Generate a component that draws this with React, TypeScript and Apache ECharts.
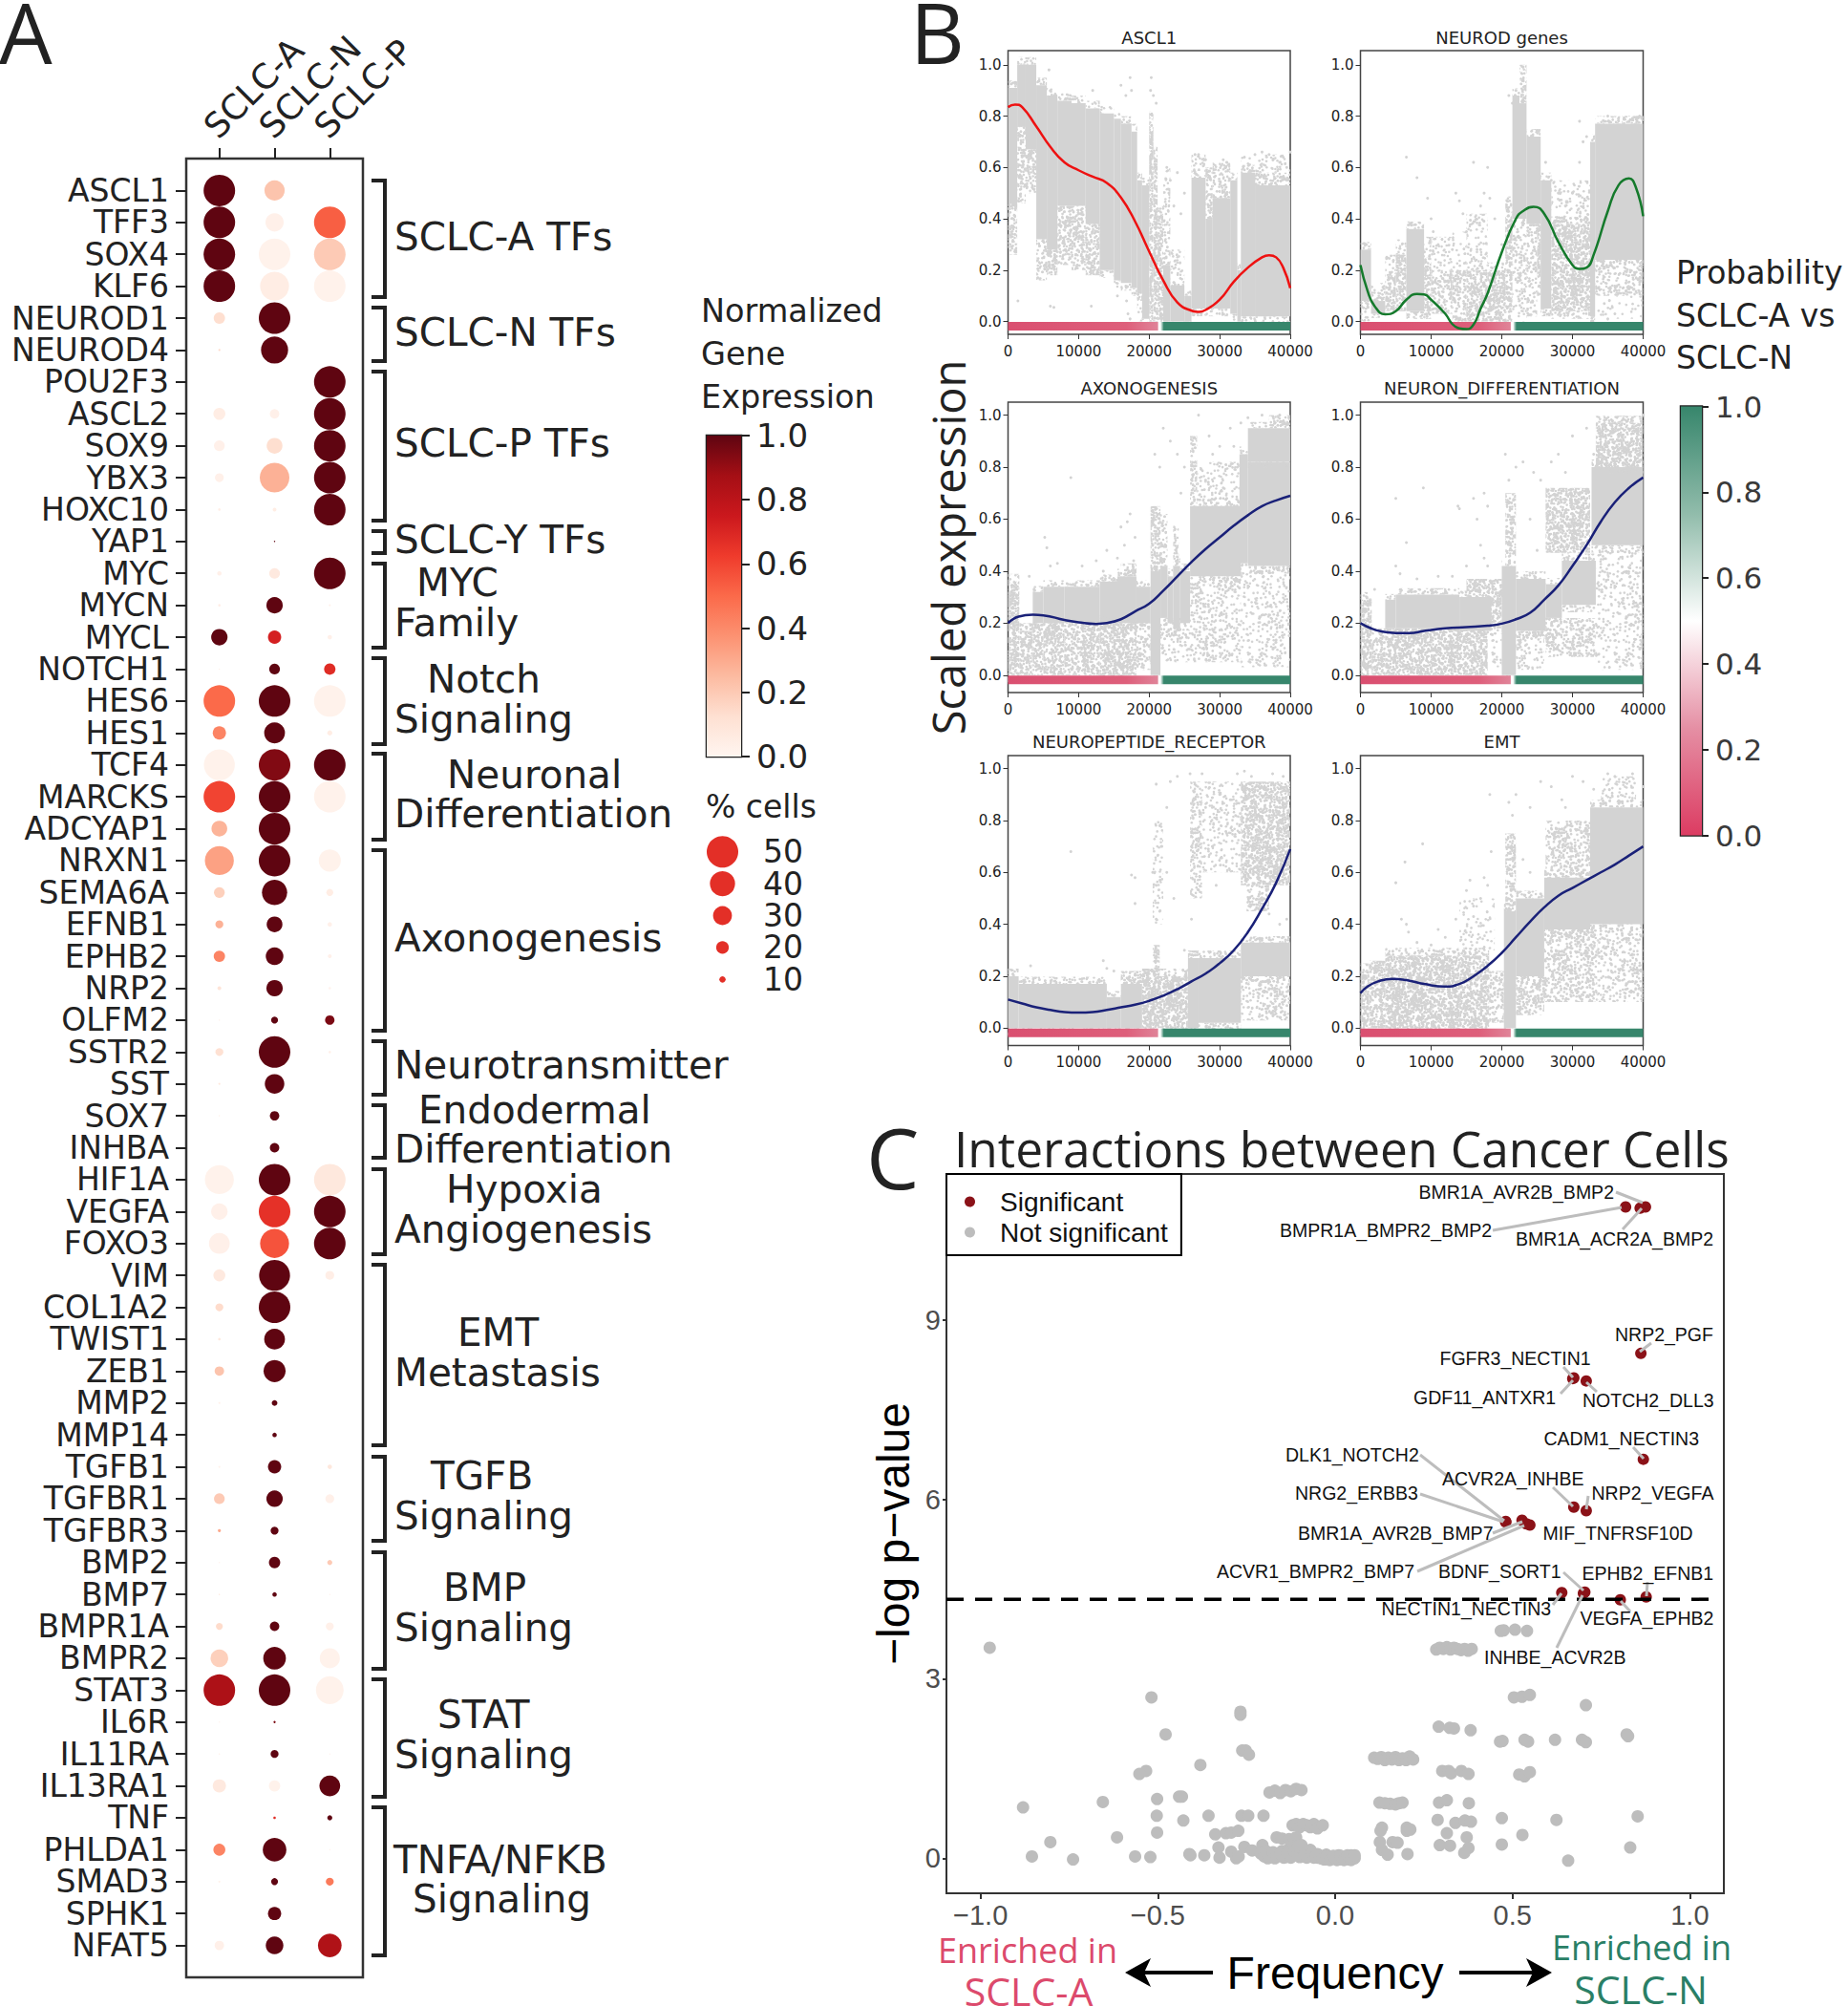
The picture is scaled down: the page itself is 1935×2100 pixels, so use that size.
import React, { useEffect, useRef } from "react";
import * as echarts from "echarts";

const genes = ["ASCL1","TFF3","SOX4","KLF6","NEUROD1","NEUROD4","POU2F3","ASCL2","SOX9","YBX3","HOXC10","YAP1","MYC","MYCN","MYCL","NOTCH1","HES6","HES1","TCF4","MARCKS","ADCYAP1","NRXN1","SEMA6A","EFNB1","EPHB2","NRP2","OLFM2","SSTR2","SST","SOX7","INHBA","HIF1A","VEGFA","FOXO3","VIM","COL1A2","TWIST1","ZEB1","MMP2","MMP14","TGFB1","TGFBR1","TGFBR3","BMP2","BMP7","BMPR1A","BMPR2","STAT3","IL6R","IL11RA","IL13RA1","TNF","PHLDA1","SMAD3","SPHK1","NFAT5"];
const subtypes = ["SCLC-A","SCLC-N","SCLC-P"];
const pctA = [50,50,50,50,18,3,0,19,17,14,4,0,7,4,26,2,50,21,49,50,25,46,17,12.5,18,6,2,12.5,3,2,0,46,26,33,19,12.5,4,15,3,0,3,17,5,2,2,11,28,50,2,2,21,0,19,3,0,15];
const exprA = [1,1,1,1,.13,.15,0,.05,.03,.03,.04,0,.03,.04,1,.03,.5,.42,.02,.6,.27,.33,.18,.28,.42,.1,.03,.12,.08,.03,0,.02,.03,.03,.07,.14,.08,.22,.02,0,.02,.2,.3,.02,.08,.14,.18,.85,.02,.03,.07,0,.42,.02,0,.03];
const pctN = [32,29,50,46,50,43,0,15,25,47,6,2,17,26,21,17,50,33,50,50,50,50,40,25,28,26,11,50,31,15,15,50,50,46,49,50,33,35,9,7,21,26,12.5,18,7,15,36,50,3.5,12.5,18,4,37.5,11,21,28];
const exprN = [.22,.03,.02,.05,1,1,0,.03,.13,.28,.05,1,.07,1,.72,1,1,1,.94,1,1,1,1,1,1,1,1,1,1,1,1,1,.66,.56,1,1,1,1,1,1,1,1,1,1,1,1,1,1,.95,1,.02,.68,1,1,1,1];
const pctP = [0,50,50,50,0,0,50,50,50,50,50,0,50,3,7,18,50,8,50,50,0,35,11,7,6,4,15,4,0,0,0,50,50,50,14,0,0,0,0,0,7,14,0,8,2,12.5,32,44,0,2,33,8,2,12.5,0,37.5];
const exprP = [0,.53,.2,.02,0,0,1,1,1,1,1,0,1,.02,.03,.68,.02,.05,1,.02,0,.02,.05,.03,.03,.01,.95,.03,0,0,0,.08,1,1,.04,0,0,0,0,0,.08,.03,0,.2,.01,.03,.02,.02,0,.01,1,1,.01,.45,0,.84];
const pctLegend = [50,40,30,20,10];
const groups = [
  { rows: [189, 311], lines: [["SCLC-A TFs", 413, 248]] },
  { rows: [322, 378], lines: [["SCLC-N TFs", 413, 348]] },
  { rows: [389, 545], lines: [["SCLC-P TFs", 413, 464]] },
  { rows: [556, 579], lines: [["SCLC-Y TFs", 413, 565]] },
  { rows: [590, 678], lines: [["MYC", 436, 610], ["Family", 413, 652]] },
  { rows: [689, 779], lines: [["Notch", 447, 711], ["Signaling", 413, 753]] },
  { rows: [789, 879], lines: [["Neuronal", 468, 811], ["Differentiation", 413, 852]] },
  { rows: [890, 1079], lines: [["Axonogenesis", 413, 982]] },
  { rows: [1090, 1146], lines: [["Neurotransmitter", 413, 1115]] },
  { rows: [1157, 1212], lines: [["Endodermal", 438, 1162], ["Differentiation", 413, 1203]] },
  { rows: [1224, 1313], lines: [["Hypoxia", 467, 1245], ["Angiogenesis", 413, 1287]] },
  { rows: [1324, 1513], lines: [["EMT", 479, 1395], ["Metastasis", 413, 1437]] },
  { rows: [1525, 1613], lines: [["TGFB", 451, 1545], ["Signaling", 413, 1587]] },
  { rows: [1625, 1747], lines: [["BMP", 464, 1662], ["Signaling", 413, 1704]] },
  { rows: [1758, 1881], lines: [["STAT", 458, 1795], ["Signaling", 413, 1837]] },
  { rows: [1892, 2047], lines: [["TNFA/NFKB", 412, 1947], ["Signaling", 432, 1988]] },
];

const curveAscl1 = [[0,.835],[1000,.845],[2000,.835],[4000,.76],[6000,.68],[8000,.62],[10000,.589],[12000,.564],[14000,.54],[16000,.483],[18000,.39],[20000,.273],[22000,.16],[24000,.074],[26000,.042],[27000,.037],[28000,.045],[30000,.085],[32000,.155],[34000,.21],[36000,.25],[37000,.258],[38000,.25],[39000,.21],[40000,.13]];
const curveNeurod = [[0,.22],[1000,.12],[2000,.06],[3500,.028],[5000,.04],[6500,.085],[8000,.107],[9000,.105],[10000,.085],[12000,.03],[13000,-.01],[14000,-.027],[15000,-.03],[16000,-.012],[17000,.05],[18000,.11],[20000,.27],[22000,.4],[23000,.43],[24500,.447],[26000,.42],[28000,.31],[30000,.22],[31000,.205],[32000,.21],[33000,.26],[35000,.43],[36500,.53],[38000,.557],[39000,.52],[40000,.41]];
const curveAxon = [[0,.2],[1500,.225],[3500,.232],[5000,.23],[8000,.212],[10000,.203],[12500,.197],[14000,.2],[16000,.215],[18000,.245],[20000,.275],[22000,.325],[24000,.38],[26000,.435],[28000,.485],[30000,.53],[32000,.575],[34000,.615],[36000,.65],[38000,.672],[40000,.69]];
const curveNeuron = [[0,.2],[1500,.18],[3000,.168],[5000,.162],[7000,.162],[9000,.17],[12000,.18],[15000,.185],[18000,.19],[20000,.198],[22000,.215],[24000,.24],[26000,.29],[28000,.345],[30000,.42],[32000,.5],[34000,.59],[36000,.665],[38000,.72],[40000,.76]];
const curvePeptide = [[0,.11],[2000,.095],[4000,.08],[6000,.07],[8000,.062],[10000,.06],[12000,.062],[14000,.07],[16000,.08],[18000,.09],[20000,.105],[22000,.125],[24000,.15],[26000,.18],[28000,.21],[30000,.25],[32000,.3],[34000,.37],[36000,.46],[38000,.56],[40000,.69]];
const curveEmt = [[0,.135],[1000,.16],[2500,.18],[4500,.19],[6500,.185],[9000,.17],[12000,.16],[14000,.17],[16000,.2],[18000,.24],[20000,.29],[22000,.35],[24000,.41],[26000,.465],[28000,.51],[30000,.54],[32000,.57],[34000,.6],[36000,.63],[38000,.665],[40000,.7]];

// Cloud envelopes: [x from, x to, y from, y to, density of the dots]
const cloudAscl1 = [[0,1300,.46,.91,1],[0,1300,.26,.46,.55],[1300,2500,.76,1,1],[1300,2500,.46,.76,.6],[2500,4000,.67,1,1],[2500,4000,.5,.67,.6],[4000,5500,.32,.92,1],[4000,5500,.16,.32,.4],[5500,7000,.28,.88,1],[5500,7000,.18,.28,.5],[7000,9000,.45,.86,1],[7000,9000,.22,.45,.7],[9000,11000,.45,.85,1],[9000,11000,.2,.45,.62],[11000,13000,.38,.83,1],[11000,13000,.18,.38,.7],[13000,15000,.2,.81,1],[15000,16000,.16,.79,1],[16000,17500,.15,.77,1],[17500,18300,.13,.74,1],[18300,19000,.11,.55,1],[18300,19000,0,.11,.3],[19000,20000,.01,.53,1],[20000,20600,0,.79,.95],[20600,21200,0,.65,.9],[21200,22000,0,.42,.9],[22000,23000,0,.22,1],[22000,23000,.22,.6,.3],[23000,25000,0,.14,1],[23000,25000,.14,.28,.2],[25000,26000,0,.1,1],[26000,28000,.05,.56,1],[26000,28000,.56,.65,.35],[28000,29000,.05,.4,1],[28000,29000,.4,.6,.6],[29000,31500,.05,.48,1],[29000,31500,.48,.62,.45],[31500,32500,.03,.55,1],[32500,33000,0,.2,1],[33000,35000,.02,.58,1],[35000,40000,.02,.53,1],[33000,40000,.58,.65,.2],[35000,40000,.53,.58,.5]];
const cloudNeurod = [[0,1500,.08,.28,1],[0,1500,0,.08,.3],[1500,3500,.03,.08,1],[1500,3500,.08,.15,.2],[3500,5000,.04,.18,.8],[3500,5000,.18,.26,.3],[5000,6500,.04,.26,.75],[5000,6500,.26,.32,.25],[6500,9000,.04,.36,1],[9000,10000,.04,.25,.9],[9000,10000,.25,.33,.4],[10000,13000,.03,.2,.6],[10000,13000,.2,.33,.2],[13000,15000,0,.2,.6],[13000,15000,.2,.35,.15],[15000,18000,0,.2,.75],[15000,18000,.2,.42,.3],[18000,20500,0,.2,.95],[20500,21500,0,.3,.8],[20500,21500,.3,.46,.9],[21500,22500,.4,.88,1],[22500,23500,.4,.85,1],[22500,23500,.85,1,.6],[21500,23500,0,.4,.25],[23500,25500,.38,.72,1],[23500,25000,.02,.38,.35],[25000,25500,.1,.38,.8],[25500,27000,.05,.55,1],[27000,32500,.04,.38,.92],[27000,32500,.38,.55,.22],[32500,33200,.02,.7,1],[33200,40000,.24,.77,1],[37000,40000,.77,.8,.6],[33200,40000,.1,.24,.45],[33200,40000,.01,.1,.1]];
const cloudAxon = [[0,1600,0,.36,.95],[1600,3500,0,.17,.75],[1600,3500,.17,.2,.4],[3500,5000,.2,.32,1],[3500,5000,0,.2,.75],[5000,8000,.2,.34,1],[5000,8000,0,.2,.8],[8000,13000,.2,.34,1],[8000,13000,0,.2,.75],[13000,15500,.2,.36,1],[13000,15500,0,.2,.9],[15500,18200,.2,.38,1],[15500,18200,0,.2,.92],[16000,18200,.38,.43,.6],[18200,20200,.2,.34,1],[18200,20200,.02,.2,.35],[20200,21600,0,.4,1],[20200,21600,.4,.65,.7],[21600,22600,.22,.42,1],[21600,22600,.42,.62,.45],[21600,25800,.05,.22,.3],[22600,23400,.2,.38,1],[23400,24400,.18,.42,1],[23400,24200,.42,.58,.5],[24400,25800,.2,.4,1],[25800,33000,.38,.65,1],[25800,26800,.65,.92,.5],[26800,28000,.65,.8,.2],[28000,32800,.65,.82,.28],[25800,33000,.05,.38,.32],[32800,34000,.43,.85,1],[34000,40000,.42,.82,1],[34000,40000,.82,.95,1],[37000,40000,.95,1,.6],[33000,40000,.03,.42,.2]];
const cloudNeuron = [[0,1600,.02,.29,.92],[1600,3500,0,.18,.72],[3500,5000,.18,.29,1],[5000,14000,.18,.31,1],[14000,18500,.17,.3,1],[3500,18000,0,.18,.85],[15000,21000,.3,.37,.8],[18300,20000,.18,.3,.9],[18300,20000,.03,.17,.2],[20000,22000,0,.42,1],[20500,22000,.42,.7,.6],[22000,26200,.17,.37,1],[22000,26000,.02,.17,.25],[26200,28000,.1,.22,.6],[26200,28500,.22,.35,1],[28500,33300,.27,.44,1],[26200,32500,.47,.72,.85],[26200,33300,.07,.22,.45],[32700,40000,.5,.8,1],[33300,40000,.8,.97,.95],[33300,40000,.02,.48,.22]];
const cloudPeptide = [[0,1500,0,.2,1],[1500,14000,0,.17,1],[14000,16000,0,.12,1],[16000,19000,0,.17,1],[16000,20000,.17,.22,.7],[19000,25500,0,.2,.95],[20500,21500,.2,.32,.85],[25500,27000,0,.27,1],[27000,33000,.02,.27,1],[33000,40000,.2,.33,1],[33000,40000,.03,.2,.35],[33000,40000,.55,.95,.85],[33800,37000,.45,.55,.5],[25800,27500,.5,.95,.45],[27500,33000,.6,.95,.22],[20500,22000,.4,.8,.15]];
const cloudEmt = [[0,1200,0,.22,.9],[1200,3500,0,.26,.8],[3500,14000,0,.28,.95],[14000,18200,0,.28,.9],[18200,20300,.02,.22,.55],[20300,22000,0,.45,1],[20500,22000,.45,.75,.55],[22000,26000,.2,.5,1],[22000,26000,.05,.2,.45],[26000,32500,.38,.58,1],[26200,32500,.58,.8,.5],[26000,33500,.1,.38,.5],[32500,40000,.4,.85,1],[33500,40000,.1,.4,.3],[34000,39000,.85,.97,.25],[14000,19000,.3,.5,.15]];

const sparseAscl1 = [[17300,.95],[17500,.9],[20300,.95],[20200,.9],[5800,.98],[16000,.92],[16700,.88],[12000,.9],[20600,.88],[21000,.85],[1400,.08],[6000,.06],[6500,.055],[11800,.06],[15500,.1],[17000,.03],[17300,.01],[16800,.08],[22500,.6],[23000,.55],[24000,.58],[25000,.5],[24500,.42],[23500,.45],[22800,.5],[26500,.65],[27000,.65],[28000,.63],[30500,.63],[31000,.62],[33500,.64],[35000,.65],[36000,.66],[37000,.65],[38500,.62],[39500,.6],[40000,.66],[39000,.64]];
const sparseNeurod = [[6500,.64],[8000,.56],[10000,.4],[10300,.35],[7000,.38],[12500,.32],[13000,.28],[11000,.3],[9500,.48],[13500,.5],[14000,.47],[16000,.62],[18000,.6],[17000,.45],[17500,.5],[18300,.48],[16500,.28],[15000,.35],[14500,.42],[17000,.28],[21000,.88],[21500,.85],[22000,.9],[19000,.4],[20000,.3],[26200,.62],[27000,.55],[28000,.5],[29000,.45],[30000,.5],[31000,.78],[31500,.7],[32000,.72],[31000,.62],[34500,.78],[35000,.8],[36500,.79],[38000,.78],[39500,.8],[20500,0],[35000,.01],[36000,.03],[34500,.07]];
const sparseAxon = [[8900,.76],[5200,.53],[5500,.49],[16000,.57],[17300,.62],[16900,.59],[18000,.53],[16500,.5],[15500,.45],[14000,.48],[13500,.4],[12500,.44],[10500,.42],[7000,.43],[6000,.42],[3000,.38],[17800,.44],[20800,.85],[21500,.8],[22000,.95],[23000,.9],[24000,.85],[24500,.7],[25000,.8],[27000,1],[28500,.92],[29000,.85],[30000,.88],[31500,.95],[32000,.88],[33000,.97],[32500,.8],[34000,.99],[36000,1],[38500,1],[39800,.99],[28000,.75],[30500,.72],[31000,.68]];
const sparseNeuron = [[8900,.72],[5000,.68],[6500,.51],[5000,.42],[5600,.39],[14000,.64],[13800,.65],[16000,.68],[17500,.7],[18000,.65],[16500,.6],[17000,.5],[17500,.45],[18000,.42],[15000,.42],[13000,.38],[11000,.38],[8000,.37],[2000,.33],[20500,.85],[21000,.75],[22000,.8],[23000,.82],[24500,.78],[25500,.75],[27000,.82],[28000,.85],[29000,.78],[30000,.92],[32000,.95],[33000,.85],[34500,.98],[36000,.97],[38500,.99],[40000,1],[24000,.6],[25000,.48]];
const sparsePeptide = [[8900,.68],[17500,.59],[18000,.58],[18000,.48],[3200,.24],[13500,.26],[14000,.23],[15000,.22],[20500,.6],[21000,.55],[21500,.45],[21000,.42],[21800,.7],[21500,.78],[21000,.94],[22500,.85],[23000,.95],[22500,.6],[23500,.5],[24000,.97],[25000,.3],[25800,.98],[26000,.42],[27500,.98],[28000,.85],[29000,.7],[29500,.55],[30000,.9],[31000,.75],[31500,.88],[32500,.98],[33500,.99],[34500,.97],[37500,.98],[39000,.97],[39800,.35],[39500,.42],[38500,.4],[37000,.44]];
const sparseEmt = [[8800,.71],[5000,.56],[6300,.64],[5800,.42],[6500,.4],[6800,.37],[8000,.33],[10000,.32],[11000,.38],[12000,.35],[13500,.42],[15000,.53],[16000,.47],[15500,.57],[17000,.5],[18000,.55],[18300,.9],[16000,.43],[18500,.68],[17500,.58],[21000,.87],[21500,.82],[22000,.9],[23000,.65],[24000,.85],[25500,.95],[27000,.93],[28500,.88],[30000,.97],[31500,.95],[33000,.92],[35000,.98],[36000,.97],[38500,.98],[40000,.93],[29000,.85],[24000,.6]];

const sigNames = ["BMR1A_AVR2B_BMP2","BMR1A_ACR2A_BMP2","BMPR1A_BMPR2_BMP2","NRP2_PGF","FGFR3_NECTIN1","GDF11_ANTXR1","NOTCH2_DLL3","CADM1_NECTIN3","DLK1_NOTCH2","NRG2_ERBB3","ACVR2A_INHBE","NRP2_VEGFA","BMR1A_AVR2B_BMP7","MIF_TNFRSF10D","ACVR1_BMPR2_BMP7","BDNF_SORT1","EPHB2_EFNB1","NECTIN1_NECTIN3","VEGFA_EPHB2","INHBE_ACVR2B"];
const sigFreq = [.875,.86,.819,.862,.673,.67,.708,.869,.481,.481,.673,.708,.527,.549,.539,.704,.877,.639,.804,.7];
const sigLogP = [10.89,10.87,10.89,8.44,8.03,8.02,7.98,6.67,5.63,5.62,5.87,5.81,5.65,5.57,5.59,4.45,4.37,4.44,4.32,4.43];
const notSig = [[-.974,3.52],[-.518,2.69],[-.267,2.45],[-.267,2.4],[-.478,2.07],[-.262,1.8],[-.252,1.8],[-.243,1.73],[-.38,1.56],[-.533,1.46],[-.552,1.41],[-.655,.94],[-.88,.85],[-.502,.99],[-.44,1.03],[-.432,1.03],[-.503,.71],[-.428,.63],[-.357,.71],[-.264,.71],[-.245,.71],[-.202,.71],[-.502,.43],[-.615,.35],[-.803,.27],[-.338,.4],[-.308,.42],[-.293,.43],[-.273,.46],[-.855,.03],[-.739,-.02],[-.564,.03],[-.521,.02],[-.411,.07],[-.408,.05],[-.369,.05],[-.326,.01],[-.329,.18],[-.293,.11],[-.279,0],[-.272,.03],[-.256,.19],[-.234,.13],[-.205,.22],
[-.185,1.1],[-.17,1.13],[-.155,1.09],[-.14,1.14],[-.125,1.12],[-.11,1.16],[-.095,1.14],[-.12,.55],[-.11,.57],[-.1,.52],[-.09,.57],[-.08,.55],[-.07,.52],[-.06,.57],[-.05,.5],[-.035,.55],[-.165,.35],[-.15,.33],[-.13,.32],[-.115,.3],[-.11,.35],
[-.21,.08],[-.2,.03],[-.19,0],[-.18,.08],[-.17,0],[-.16,.04],[-.15,.12],[-.14,.02],[-.13,.16],[-.12,.06],[-.11,.18],[-.1,.02],[-.09,.1],[-.08,.01],[-.07,.14],[-.06,.05],[-.05,.01],[-.04,0],[-.03,.02],[-.02,0],[-.01,.02],[0,0],[.01,.01],[.02,0],[.03,.02],[.04,0],[.05,.01],[.055,0],[-.06,.01],[-.03,-.02],[.01,-.02],[.04,-.02],[-.14,.1],[-.12,.2],[-.1,.12],[-.17,.06],[-.09,.03],[-.13,.03],[-.19,.05],[-.05,.07],[-.025,.06],[.01,.05],[.045,.05],
[-.195,.12],[-.185,.02],[-.175,.1],[-.165,.03],[-.155,.07],[-.145,.01],[-.135,.09],[-.125,.01],[-.115,.12],[-.105,.07],[-.095,.16],[-.085,.06],[-.075,.03],[-.065,.09],[-.055,.03],[-.045,.05],[-.035,-.01],[-.025,.03],[-.015,-.03],[-.005,.04],[.005,-.03],[.015,.04],[.025,-.03],[.035,.05],[.045,-.03],[.055,.05],[-.105,.2],[-.095,.22],
[.285,3.49],[.295,3.52],[.305,3.5],[.315,3.53],[.325,3.49],[.335,3.52],[.345,3.5],[.355,3.48],[.365,3.5],[.375,3.47],[.385,3.5],[.467,3.8],[.475,3.81],[.507,3.82],[.541,3.8],[.504,2.69],[.527,2.7],[.549,2.73],[.707,2.56],[.292,2.2],[.323,2.18],[.335,2.17],[.382,2.14],[.465,1.95],[.472,1.96],[.534,1.98],[.544,1.95],[.62,1.98],[.696,1.98],[.707,1.94],[.822,2.07],[.826,2.04],
[.11,1.68],[.12,1.66],[.13,1.69],[.14,1.64],[.15,1.68],[.16,1.65],[.17,1.69],[.18,1.64],[.19,1.67],[.2,1.64],[.21,1.7],[.22,1.65],[.302,1.46],[.32,1.46],[.327,1.42],[.356,1.46],[.376,1.41],[.519,1.4],[.534,1.37],[.549,1.44],[.125,.93],[.14,.92],[.155,.91],[.17,.9],[.18,.92],[.19,.93],[.293,.93],[.315,.97],[.377,.92],[.47,.67],[.624,.64],[.853,.7],[.289,.64],[.339,.59],[.366,.63],[.383,.61],[.132,.51],[.128,.46],[.202,.51],[.202,.46],[.212,.48],[.315,.42],[.371,.35],[.528,.39],[.126,.27],[.162,.27],[.176,.26],[.295,.22],[.324,.21],[.376,.17],[.364,.09],[.47,.23],[.832,.18],[.132,.14],[.148,.06],[.204,.07],[.657,-.04]];
const threshold = 4.33;

const DV = '"DejaVu Sans"';
const LS = '"Liberation Sans"';
const OS = '"Open Sans"';
const reds = ["#fff5f0","#fee0d2","#fcbba1","#fc9272","#fb6a4a","#ef3b2c","#cb181d","#a50f15","#5f0511"];
const rgb = (h: string) => [1, 3, 5].map((i) => parseInt(h.slice(i, i + 2), 16));
const redColor = (t: number) => {
  const p = Math.min(.9999, t) * 8, i = Math.floor(p), f = p - i;
  const a = rgb(reds[i]), b = rgb(reds[i + 1]);
  return `rgb(${a.map((v, k) => Math.round(v + (b[k] - v) * f)).join(",")})`;
};

// A speckled tile: only the look of overlapping dots inside a cloud read as an envelope, not data.
const tiles: Record<string, any> = {};
const scatterTexture = (d: number) => {
  if (d >= 1) return "#d3d3d3";
  const key = d.toFixed(2);
  if (tiles[key]) return tiles[key];
  const s = 128, c = document.createElement("canvas");
  c.width = s; c.height = s;
  const ctx = c.getContext("2d")!;
  ctx.fillStyle = "#d3d3d3";
  const n = Math.round(d * s * s / 5.3 * 1.3);
  const frac = (v: number) => v - Math.floor(v);
  for (let i = 1; i <= n; i++) {
    const x = frac(Math.sin(i * 12.9898) * 43758.5453) * s, y = frac(Math.sin(i * 78.233) * 24634.6345) * s;
    for (const [ox, oy] of [[0, 0], [s, 0], [-s, 0], [0, s], [0, -s]]) {
      ctx.beginPath(); ctx.arc(x + ox, y + oy, 1.3, 0, Math.PI * 2); ctx.fill();
    }
  }
  tiles[key] = { image: c, repeat: "repeat", imageWidth: s, imageHeight: s };
  return tiles[key];
};

const T = (text: string, x: number, y: number, size: number, font: string, fill = "#222", extra: any = {}) => ({
  type: "text", x, y, z: 60, rotation: extra.rotation || 0,
  style: { text, x: 0, y: 0, fill, font: `${extra.weight || "normal"} ${size}px ${font}`, textAlign: extra.align || "left", verticalAlign: "middle", textVerticalAlign: "middle" },
});
const L = (a: number[], b: number[], color = "#bdbdbd", w = 3) => ({ type: "line", z: 50, shape: { x1: a[0], y1: a[1], x2: b[0], y2: b[1] }, style: { stroke: color, lineWidth: w } });

function buildOption() {
  const grid: any[] = [], xAxis: any[] = [], yAxis: any[] = [], series: any[] = [], title: any[] = [], graphic: any[] = [];
  const box = (l: number, t: number, r: number, b: number, bc = "#333", bw = 2) => {
    grid.push({ left: l, top: t, width: r - l, height: b - t, show: true, borderColor: bc, borderWidth: bw, backgroundColor: "transparent", containLabel: false });
    return grid.length - 1;
  };
  const line0 = { show: false, onZero: false };

  // ---------- Panel A dot plot
  const gA = box(195, 166, 380, 2070, "#333", 2.5);
  xAxis.push({ type: "value", gridIndex: gA, position: "top", min: -.6, max: 2.6, axisLine: line0, splitLine: { show: false },
    axisTick: { show: true, length: 11, customValues: [0, 1, 2], lineStyle: { color: "#222", width: 2 } },
    axisLabel: { customValues: [0, 1, 2], rotate: -45, margin: 18, verticalAlign: "bottom", showMinLabel: true, showMaxLabel: true, lineHeight: 28, fontFamily: DV, fontSize: 36, color: "#222", formatter: (v: number) => subtypes[v] } });
  yAxis.push({ type: "value", gridIndex: gA, inverse: true, min: -1, max: 56, axisLine: line0, splitLine: { show: false },
    axisTick: { show: true, length: 11, customValues: genes.map((_, i) => i), lineStyle: { color: "#222", width: 2 } },
    axisLabel: { customValues: genes.map((_, i) => i), margin: 18, fontFamily: DV, fontSize: 33, color: "#222", formatter: (v: number) => genes[v] } });
  [[pctA, exprA], [pctN, exprN], [pctP, exprP]].forEach(([p, e], col) => {
    series.push({ type: "scatter", name: subtypes[col], xAxisIndex: gA, yAxisIndex: gA,
      symbolSize: (v: number[]) => v[2] * .66,
      data: genes.map((_, i) => ({ value: [col, i, p[i], e[i]], itemStyle: { color: redColor(e[i]), opacity: 1 } })).filter((d) => d.value[2] > 0) });
  });

  // ---------- Colourbars
  const colorBar = (l: number, t: number, r: number, b: number, stops: any[], size: number, color: string, tick: number, bw: number) => {
    const g = box(l, t, r, b, "#222", bw);
    xAxis.push({ type: "category", gridIndex: g, data: ["scale"], show: false });
    yAxis.push({ type: "value", gridIndex: g, min: 0, max: 1, interval: .2, position: "right", axisLine: line0, splitLine: { show: false },
      axisTick: { show: true, length: tick, lineStyle: { color: "#222", width: 2 } },
      axisLabel: { margin: tick + 7, fontFamily: DV, fontSize: size, color, formatter: (v: number) => v.toFixed(1) } });
    series.push({ type: "bar", xAxisIndex: g, yAxisIndex: g, barWidth: "100%", z: 1, silent: true, data: [1],
      itemStyle: { color: new echarts.graphic.LinearGradient(0, 1, 0, 0, stops) } });
  };
  colorBar(740, 456, 776, 792, reds.map((c, i) => ({ offset: i / 8, color: c })), 34, "#222", 9, 2.5);

  // ---------- % cells legend
  const gP = box(740, 875, 773, 1042, "transparent", 0);
  xAxis.push({ type: "value", gridIndex: gP, min: 0, max: 1, show: false });
  yAxis.push({ type: "value", gridIndex: gP, min: 5, max: 55, position: "right", axisLine: line0, splitLine: { show: false }, axisTick: { show: false },
    axisLabel: { customValues: pctLegend, margin: 26, fontFamily: DV, fontSize: 33, color: "#222" } });
  series.push({ type: "scatter", name: "% cells", xAxisIndex: gP, yAxisIndex: gP, symbolSize: (v: number[]) => v[1] * .66,
    itemStyle: { color: "#e32f27", opacity: 1 }, data: pctLegend.map((v) => [.5, v]) });

  // ---------- Panel B
  const strip = [[0, 40000, -.035, -.002]];
  const stripStops = [
    { offset: 0, color: "#da4f70" }, { offset: .42, color: "#de5f7b" }, { offset: .53, color: "#e08398" }, { offset: .5335, color: "#ffffff" },
    { offset: .54, color: "#ffffff" }, { offset: .552, color: "#37866c" }, { offset: 1, color: "#37866c" },
  ];
  const panels: any[] = [
    ["ASCL1", cloudAscl1, sparseAscl1, curveAscl1, "#ee1111", 0, 0],
    ["NEUROD genes", cloudNeurod, sparseNeurod, curveNeurod, "#157a2c", 1, 0],
    ["AXONOGENESIS", cloudAxon, sparseAxon, curveAxon, "#1a2178", 0, 1],
    ["NEURON_DIFFERENTIATION", cloudNeuron, sparseNeuron, curveNeuron, "#1a2178", 1, 1],
    ["NEUROPEPTIDE_RECEPTOR", cloudPeptide, sparsePeptide, curvePeptide, "#1a2178", 0, 2],
    ["EMT", cloudEmt, sparseEmt, curveEmt, "#1a2178", 1, 2],
  ];
  const colX = [[1055.5, 1351], [1424.5, 1720.5]];
  const rowY = [[53, 350, -.05, 1.055, 39], [421, 725, -.067, 1.05, 406], [791, 1094.5, -.067, 1.05, 776]];
  panels.forEach(([name, cloud, sparse, curve, color, c, r]) => {
    const [l, rr] = colX[c]; const [t, b, mn, mx, ty] = rowY[r];
    const g = box(l, t, rr, b, "#444", 1.5);
    title.push({ text: name, left: (l + rr) / 2, top: ty - 10, textAlign: "center", padding: 0, textStyle: { fontFamily: DV, fontSize: 18, fontWeight: "normal", color: "#222", lineHeight: 20 } });
    xAxis.push({ type: "value", gridIndex: g, min: 0, max: 40000, interval: 10000, position: "bottom", axisLine: line0, splitLine: { show: false },
      axisTick: { show: true, length: 5, lineStyle: { color: "#333", width: 1 } }, axisLabel: { margin: 10, fontFamily: DV, fontSize: 15, color: "#222", formatter: (v: number) => String(v) } });
    yAxis.push({ type: "value", gridIndex: g, min: mn, max: mx, axisLine: line0, splitLine: { show: false },
      axisTick: { show: true, length: 5, customValues: [0, .2, .4, .6, .8, 1], lineStyle: { color: "#333", width: 1 } },
      axisLabel: { customValues: [0, .2, .4, .6, .8, 1], margin: 7, fontFamily: DV, fontSize: 15, color: "#222", formatter: (v: number) => v.toFixed(1) } });
    series.push({ type: "custom", name: name + " cells", xAxisIndex: g, yAxisIndex: g, z: 2, silent: true, data: cloud, clip: true,
      renderItem: (_: any, api: any) => {
        const p0 = api.coord([api.value(0), api.value(3)]), p1 = api.coord([api.value(1), api.value(2)]);
        const w = p1[0] - p0[0], h = p1[1] - p0[1], d = api.value(4), fr = Math.min(8, 3 + h * .1);
        const kids: any[] = [{ type: "rect", shape: { x: p0[0], y: p0[1], width: w, height: h }, style: { fill: scatterTexture(d) } }];
        if (d >= .9) {
          kids.push({ type: "rect", shape: { x: p0[0], y: p0[1] - fr, width: w, height: fr }, style: { fill: scatterTexture(.4) } });
          kids.push({ type: "rect", shape: { x: p0[0], y: p1[1], width: w, height: fr }, style: { fill: scatterTexture(.4) } });
        }
        return { type: "group", children: kids };
      } });
    series.push({ type: "scatter", name: name + " sparse", xAxisIndex: g, yAxisIndex: g, z: 2, symbolSize: 3, silent: true, itemStyle: { color: "#d3d3d3", opacity: 1 }, data: sparse });
    series.push({ type: "custom", name: name + " state", xAxisIndex: g, yAxisIndex: g, z: 3, silent: true, data: strip,
      renderItem: (_: any, api: any) => {
        const p0 = api.coord([api.value(0), api.value(3)]), p1 = api.coord([api.value(1), api.value(2)]);
        return { type: "rect", shape: { x: p0[0], y: p0[1], width: p1[0] - p0[0], height: p1[1] - p0[1] }, style: { fill: new echarts.graphic.LinearGradient(0, 0, 1, 0, stripStops) } };
      } });
    series.push({ type: "line", name: name + " trend", xAxisIndex: g, yAxisIndex: g, z: 4, data: curve, smooth: .5, showSymbol: false, silent: true, lineStyle: { color, width: 2.5 } });
  });

  colorBar(1760, 425.5, 1782, 874.5, [
    { offset: 0, color: "#dc3c62" }, { offset: .25, color: "#e58fa4" }, { offset: .5, color: "#ffffff" }, { offset: .75, color: "#91bcab" }, { offset: 1, color: "#37866c" },
  ], 31, "#3a3a3a", 7, 2.5);

  // ---------- Panel C
  const gC = box(991, 1229, 1805, 1982, "#333", 2);
  xAxis.push({ type: "value", gridIndex: gC, min: -1.096, max: 1.096, position: "bottom", axisLine: line0, splitLine: { show: false },
    name: "Frequency", nameLocation: "middle", nameGap: 59, nameTextStyle: { fontFamily: LS, fontSize: 48, color: "#000" },
    axisTick: { show: true, length: 6, customValues: [-1, -.5, 0, .5, 1], lineStyle: { color: "#333", width: 2 } },
    axisLabel: { customValues: [-1, -.5, 0, .5, 1], margin: 8, fontFamily: LS, fontSize: 29, color: "#4d4d4d", formatter: (v: number) => v.toFixed(1).replace("-", "\u2212") } });
  yAxis.push({ type: "value", gridIndex: gC, min: -.586, max: 11.44, axisLine: line0, splitLine: { show: false },
    name: "\u2212log p\u2212value", nameLocation: "middle", nameGap: 32, nameRotate: 90, nameTextStyle: { fontFamily: LS, fontSize: 48, color: "#000" },
    axisTick: { show: true, length: 4, customValues: [0, 3, 6, 9], lineStyle: { color: "#333", width: 2 } },
    axisLabel: { customValues: [0, 3, 6, 9], margin: 6, fontFamily: LS, fontSize: 29, color: "#4d4d4d" } });
  series.push({ type: "scatter", name: "Not significant", xAxisIndex: gC, yAxisIndex: gC, symbolSize: 13, itemStyle: { color: "#bdbdbd", opacity: 1 }, data: notSig });
  series.push({ type: "scatter", name: "Significant", xAxisIndex: gC, yAxisIndex: gC, symbolSize: 12, itemStyle: { color: "#8b1218", opacity: 1 }, data: sigFreq.map((f, i) => ({ name: sigNames[i], value: [f, sigLogP[i]] })) });
  series.push({ type: "line", name: "threshold", xAxisIndex: gC, yAxisIndex: gC, showSymbol: false, silent: true, z: 3, lineStyle: { color: "#000", width: 3.5, type: [18, 12] }, data: [[-1.096, threshold], [1.07, threshold]] });

  // ---------- Annotations
  graphic.push(T("A", -1, 33, 88, OS), T("B", 953, 33, 88, OS), T("C", 907, 1211, 88, OS));
  groups.forEach((g) => {
    const [a, b] = g.rows;
    graphic.push({ type: "polyline", z: 50, shape: { points: [[389, a], [403, a], [403, b], [389, b]] }, style: { stroke: "#222", lineWidth: 4, fill: "none" } });
    g.lines.forEach(([s, x, y]: any) => graphic.push(T(s, x, y, 40.5, DV)));
  });
  [["Normalized", 325], ["Gene", 370], ["Expression", 415]].forEach(([s, y]: any) => graphic.push(T(s, 734, y, 33.5, DV)));
  graphic.push(T("% cells", 739, 844, 33, DV));
  [["Probability", 285], ["SCLC-A vs", 330], ["SCLC-N", 374]].forEach(([s, y]: any) => graphic.push(T(s, 1755, y, 33, DV)));
  graphic.push(T("Scaled expression", 993, 573, 47, OS, "#222", { rotation: Math.PI / 2, align: "center" }));
  graphic.push(T("Interactions between Cancer Cells", 999, 1202, 51.4, OS, "#222"));

  const labelSpots: Record<string, number[]> = {
    BMR1A_AVR2B_BMP2: [1485.5, 1248], BMPR1A_BMPR2_BMP2: [1340, 1288], BMR1A_ACR2A_BMP2: [1587, 1297], NRP2_PGF: [1691, 1397],
    FGFR3_NECTIN1: [1507.5, 1422], GDF11_ANTXR1: [1480, 1463], NOTCH2_DLL3: [1657, 1466], CADM1_NECTIN3: [1616.5, 1506],
    DLK1_NOTCH2: [1346, 1523], ACVR2A_INHBE: [1510, 1548], NRP2_VEGFA: [1666.5, 1563], NRG2_ERBB3: [1356, 1563],
    BMR1A_AVR2B_BMP7: [1359, 1605], MIF_TNFRSF10D: [1615.5, 1605], ACVR1_BMPR2_BMP7: [1274, 1645], BDNF_SORT1: [1506, 1645],
    EPHB2_EFNB1: [1656.5, 1647], NECTIN1_NECTIN3: [1446.5, 1684], VEGFA_EPHB2: [1654.5, 1694], INHBE_ACVR2B: [1554, 1735],
  };
  sigNames.forEach((n) => graphic.push(T(n, labelSpots[n][0], labelSpots[n][1], 19.5, LS, "#111")));
  const connectors = [
    [1692, 1248, 1720, 1259], [1563, 1288, 1698, 1264], [1699, 1287, 1719, 1265], [1729, 1406, 1717, 1415], [1637, 1431, 1647, 1442],
    [1634, 1459, 1647, 1445], [1672, 1457, 1661, 1447], [1710, 1515, 1721, 1527], [1487, 1523, 1575, 1592], [1626, 1557, 1647, 1577],
    [1663, 1566, 1661, 1580], [1487, 1564, 1574, 1593], [1563, 1605, 1594, 1593], [1484, 1645, 1596, 1597], [1637, 1646, 1658, 1665],
    [1725, 1656, 1724, 1671], [1626, 1680, 1635, 1668], [1707, 1687, 1697, 1676], [1630, 1725, 1657, 1670],
  ];
  connectors.forEach((c) => graphic.push(L([c[0], c[1]], [c[2], c[3]])));
  graphic.push(T("Enriched in", 982, 2041, 36, OS, "#dc4a6c"), T("SCLC-A", 1077, 2084, 41, OS, "#dc4a6c", { align: "center" }));
  graphic.push(T("Enriched in", 1625, 2038, 36, OS, "#2a7f66"), T("SCLC-N", 1718, 2082, 41, OS, "#2a7f66", { align: "center" }));
  graphic.push(L([1195, 2065], [1270, 2065], "#000", 4), L([1528, 2065], [1605, 2065], "#000", 4));
  graphic.push({ type: "polygon", z: 50, shape: { points: [[1178, 2065], [1205, 2050], [1198, 2065], [1205, 2080]] }, style: { fill: "#000" } });
  graphic.push({ type: "polygon", z: 50, shape: { points: [[1625, 2065], [1598, 2050], [1605, 2065], [1598, 2080]] }, style: { fill: "#000" } });

  return {
    animation: false, backgroundColor: "#fff", tooltip: { show: false }, grid, xAxis, yAxis, series, title, graphic,
    legend: { data: [{ name: "Significant", icon: "circle" }, { name: "Not significant", icon: "circle" }], orient: "vertical", left: 991, top: 1229, align: "left",
      backgroundColor: "#fff", borderColor: "#000", borderWidth: 2, borderRadius: 0, padding: [15, 14, 10, 19], itemGap: 4, itemWidth: 11, itemHeight: 11,
      textStyle: { fontFamily: LS, fontSize: 28, color: "#111", padding: [0, 0, 0, 21] }, selectedMode: false, z: 20 },
  };
}

export default function App() {
  const ref = useRef<HTMLDivElement>(null);
  useEffect(() => {
    const chart = echarts.init(ref.current!, undefined, { renderer: "svg" });
    chart.setOption(buildOption() as any);
    return () => chart.dispose();
  }, []);
  return <div ref={ref} style={{ position: "absolute", left: 0, top: 0, width: 1935, height: 2100, background: "#fff" }} />;
}
